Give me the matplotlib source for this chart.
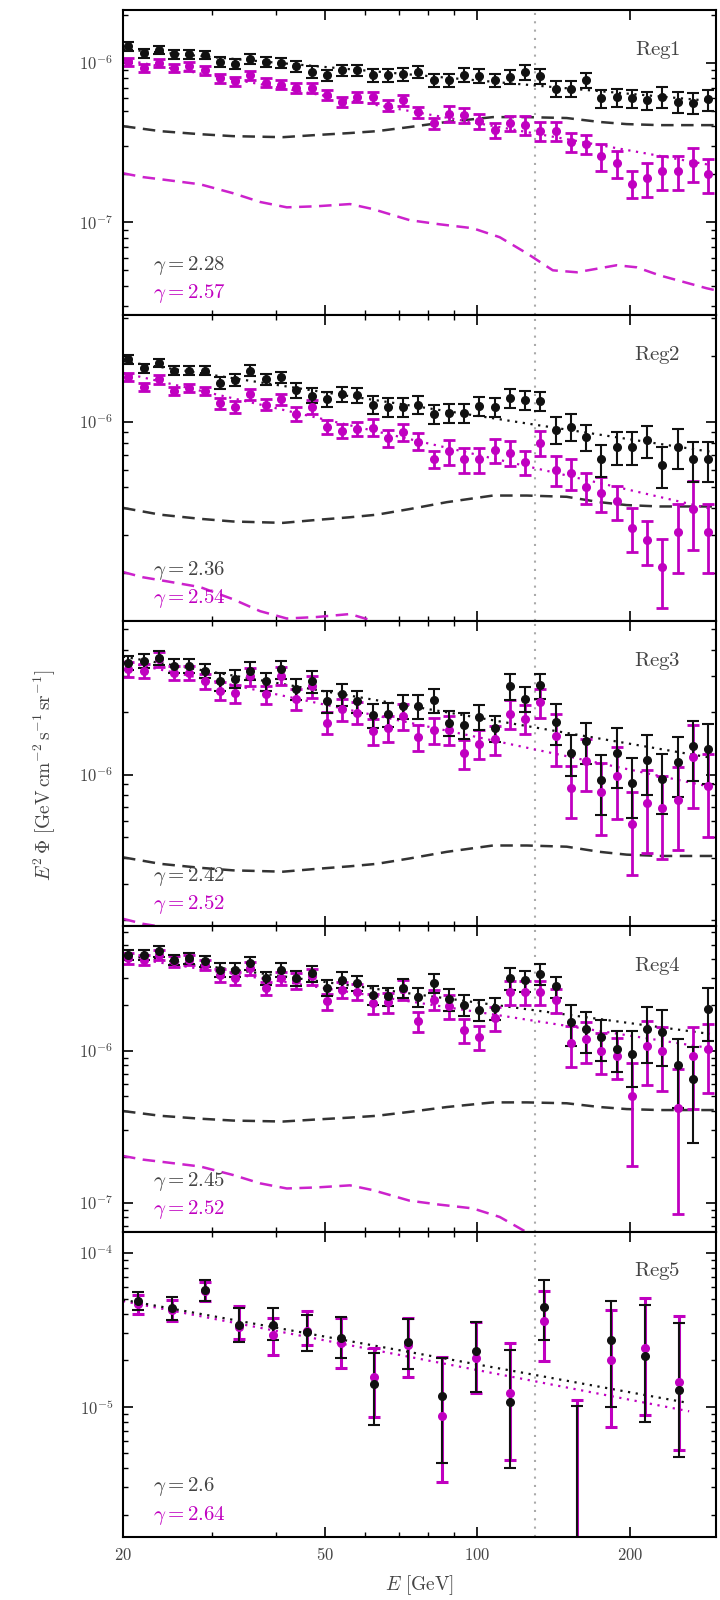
"""
Five-region spectra E^2 Phi vs E with power-law fits and template curves
"""
import numpy as np
import matplotlib
matplotlib.use('Agg')
import matplotlib.pyplot as plt
from matplotlib.ticker import FixedLocator, FixedFormatter, LogLocator, NullFormatter, FuncFormatter

# energy bins (GeV), regions 1-4
energy = [20.50, 21.97, 23.55, 25.24, 27.05, 28.99, 31.08, 33.31, 35.69, 38.26,
          41.01, 43.95, 47.11, 50.49, 54.11, 58.00, 62.16, 66.63, 71.41, 76.54,
          82.04, 87.93, 94.24, 101.0, 108.3, 116.0, 124.4, 133.3, 142.9, 153.1,
          164.1, 175.9, 188.5, 202.1, 216.6, 232.1, 248.8, 266.7, 285.8]

# flux values in 1e-6 GeV cm^-2 s^-1 sr^-1, errors as fraction of the value
reg1_black = [1.27, 1.15, 1.21, 1.13, 1.13, 1.12, 1.02, 0.99, 1.06, 1.02, 1.00, 0.95, 0.88,
              0.84, 0.90, 0.90, 0.84, 0.84, 0.85, 0.88, 0.78, 0.78, 0.84, 0.83, 0.78, 0.82,
              0.88, 0.83, 0.69, 0.69, 0.78, 0.60, 0.61, 0.60, 0.585, 0.61, 0.57, 0.56, 0.59]
reg1_black_err = [0.06, 0.06, 0.06, 0.06, 0.06, 0.06, 0.07, 0.07, 0.07, 0.07, 0.07, 0.08, 0.08,
                  0.08, 0.08, 0.08, 0.09, 0.09, 0.09, 0.09, 0.09, 0.10, 0.10, 0.10, 0.10, 0.10,
                  0.11, 0.11, 0.11, 0.11, 0.11, 0.13, 0.13, 0.13, 0.13, 0.15, 0.15, 0.15, 0.15]
reg1_mag = [1.02, 0.93, 1.00, 0.93, 0.95, 0.90, 0.80, 0.77, 0.84, 0.75, 0.73, 0.70, 0.70,
            0.63, 0.57, 0.61, 0.61, 0.54, 0.585, 0.49, 0.42, 0.48, 0.47, 0.43, 0.38, 0.42,
            0.41, 0.375, 0.375, 0.32, 0.31, 0.26, 0.235, 0.175, 0.19, 0.21, 0.21, 0.235, 0.20]
reg1_mag_err = [0.06, 0.06, 0.06, 0.06, 0.06, 0.06, 0.065, 0.065, 0.065, 0.065, 0.065, 0.07, 0.07,
                0.07, 0.07, 0.07, 0.08, 0.08, 0.08, 0.08, 0.08, 0.11, 0.11, 0.11, 0.11, 0.11,
                0.14, 0.14, 0.14, 0.14, 0.14, 0.19, 0.19, 0.19, 0.24, 0.24, 0.24, 0.24, 0.24]

reg2_black = [1.94, 1.76, 1.87, 1.72, 1.72, 1.72, 1.51, 1.56, 1.72, 1.57, 1.60, 1.40, 1.32,
              1.27, 1.34, 1.33, 1.20, 1.17, 1.17, 1.20, 1.09, 1.10, 1.10, 1.18, 1.17, 1.28,
              1.26, 1.25, 0.92, 0.95, 0.85, 0.67, 0.765, 0.765, 0.82, 0.63, 0.765, 0.67, 0.67]
reg2_black_err = [0.045, 0.045, 0.045, 0.045, 0.045, 0.045, 0.06, 0.06, 0.06, 0.06, 0.06, 0.08, 0.08,
                  0.08, 0.08, 0.08, 0.10, 0.10, 0.10, 0.10, 0.10, 0.10, 0.10, 0.10, 0.10, 0.10,
                  0.10, 0.10, 0.14, 0.14, 0.14, 0.17, 0.17, 0.17, 0.17, 0.21, 0.21, 0.21, 0.21]
reg2_mag = [1.61, 1.45, 1.57, 1.39, 1.43, 1.39, 1.22, 1.17, 1.34, 1.20, 1.27, 1.09, 1.17,
            0.95, 0.91, 0.93, 0.94, 0.84, 0.90, 0.81, 0.67, 0.73, 0.67, 0.67, 0.74, 0.72,
            0.65, 0.80, 0.60, 0.58, 0.50, 0.47, 0.43, 0.325, 0.285, 0.213, 0.31, 0.395, 0.31]
reg2_mag_err = [0.045, 0.045, 0.045, 0.045, 0.045, 0.045, 0.06, 0.06, 0.06, 0.06, 0.06, 0.075, 0.075,
                0.075, 0.075, 0.075, 0.09, 0.09, 0.09, 0.09, 0.09, 0.13, 0.13, 0.13, 0.13, 0.13,
                0.13, 0.13, 0.16, 0.16, 0.16, 0.18, 0.18, 0.23, 0.23, 0.35, 0.35, 0.35, 0.35]

reg3_black = [3.46, 3.53, 3.66, 3.34, 3.34, 3.16, 2.82, 2.90, 3.16, 2.82, 3.22, 2.59, 2.82,
              2.26, 2.44, 2.26, 1.93, 1.95, 2.14, 2.14, 2.29, 1.78, 1.73, 1.90, 1.68, 2.67,
              2.32, 2.69, 1.79, 1.27, 1.45, 0.94, 1.27, 0.91, 1.18, 0.95, 1.15, 1.37, 1.33]
reg3_black_err = [0.08, 0.08, 0.08, 0.08, 0.08, 0.08, 0.10, 0.10, 0.10, 0.10, 0.10, 0.12, 0.12,
                  0.12, 0.12, 0.12, 0.13, 0.13, 0.13, 0.13, 0.13, 0.14, 0.14, 0.14, 0.14, 0.14,
                  0.14, 0.14, 0.22, 0.22, 0.22, 0.32, 0.32, 0.32, 0.32, 0.32, 0.32, 0.32, 0.32]
reg3_mag = [3.22, 3.16, 3.59, 3.10, 3.10, 2.82, 2.53, 2.46, 2.97, 2.44, 2.99, 2.32, 2.67,
            1.78, 2.06, 1.99, 1.62, 1.68, 1.91, 1.52, 1.64, 1.65, 1.27, 1.41, 1.48, 1.97,
            1.86, 2.24, 1.53, 0.86, 1.16, 0.83, 0.99, 0.58, 0.735, 0.69, 0.76, 1.22, 0.88]
reg3_mag_err = [0.08, 0.08, 0.08, 0.08, 0.08, 0.08, 0.10, 0.10, 0.10, 0.10, 0.10, 0.12, 0.12,
                0.12, 0.12, 0.12, 0.14, 0.14, 0.14, 0.14, 0.14, 0.16, 0.16, 0.16, 0.16, 0.16,
                0.16, 0.16, 0.28, 0.28, 0.28, 0.38, 0.38, 0.43, 0.43, 0.43, 0.43, 0.43, 0.43]

reg4_black = [4.28, 4.28, 4.50, 3.97, 4.07, 3.87, 3.41, 3.41, 3.78, 3.01, 3.41, 3.01, 3.24,
              2.59, 2.93, 2.79, 2.34, 2.28, 2.59, 2.26, 2.79, 2.19, 2.01, 1.86, 1.91, 3.01,
              2.90, 3.21, 2.65, 1.54, 1.39, 1.23, 1.03, 0.956, 1.39, 1.32, 0.81, 0.65, 1.88]
reg4_black_err = [0.08, 0.08, 0.08, 0.08, 0.08, 0.08, 0.10, 0.10, 0.10, 0.10, 0.10, 0.12, 0.12,
                  0.12, 0.12, 0.12, 0.14, 0.14, 0.14, 0.14, 0.14, 0.16, 0.16, 0.16, 0.16, 0.16,
                  0.16, 0.16, 0.16, 0.30, 0.30, 0.30, 0.30, 0.40, 0.40, 0.40, 0.48, 0.62, 0.38]
reg4_mag = [4.07, 3.97, 4.28, 3.87, 3.97, 3.68, 3.16, 3.01, 3.50, 2.59, 3.01, 2.90, 3.08,
            2.11, 2.52, 2.45, 2.06, 2.08, 2.55, 1.56, 2.17, 1.96, 1.37, 1.24, 1.64, 2.45,
            2.45, 2.45, 2.17, 1.12, 1.19, 1.00, 0.93, 0.50, 1.08, 0.99, 0.42, 0.92, 1.02]
reg4_mag_err = [0.08, 0.08, 0.08, 0.08, 0.08, 0.08, 0.10, 0.10, 0.10, 0.10, 0.10, 0.12, 0.12,
                0.12, 0.12, 0.12, 0.15, 0.15, 0.15, 0.15, 0.15, 0.18, 0.18, 0.18, 0.18, 0.18,
                0.18, 0.18, 0.18, 0.30, 0.30, 0.30, 0.30, 0.65, 0.45, 0.45, 0.80, 0.55, 0.48]

# region 5: wider bins, flux in 1e-5, lower/upper ends of the error bars
energy5 = [21.4, 24.95, 29.09, 33.92, 39.56, 46.12, 53.78, 62.71, 73.12, 85.26,
           99.41, 115.9, 135.2, 157.6, 183.8, 214.3, 249.9]
reg5_black = [4.83, 4.38, 5.69, 3.41, 3.41, 3.08, 2.79, 1.41, 2.62, 1.17, 2.29, 1.08, 4.44,
              0.10, 2.72, 2.14, 1.29]
reg5_black_lo = [4.22, 3.67, 4.83, 2.65, 2.72, 2.29, 2.07, 0.76, 1.76, 0.43, 1.24, 0.40, 2.72,
                 0.001, 1.00, 0.80, 0.475]
reg5_black_hi = [5.52, 5.16, 6.61, 4.38, 4.38, 3.96, 3.82, 2.23, 3.71, 2.07, 3.53, 2.34, 6.61,
                 1.005, 4.83, 4.60, 3.50]
reg5_mag = [4.65, 4.25, 5.60, 3.30, 2.94, 3.10, 2.60, 1.57, 2.50, 0.875, 2.07, 1.23, 3.58,
            0.10, 2.02, 2.41, 1.44]
reg5_mag_lo = [4.02, 3.58, 4.85, 2.75, 2.18, 2.53, 1.78, 0.865, 1.57, 0.327, 1.23, 0.453, 1.97,
               0.001, 0.745, 0.887, 0.526]
reg5_mag_hi = [5.34, 4.95, 6.50, 4.50, 3.77, 4.16, 3.77, 2.41, 3.77, 2.12, 3.53, 2.59, 5.61,
               1.11, 4.26, 5.08, 3.86]

# power-law fits (end points, same units as the data of each region)
fit_energy = [20, 288]
fit_energy5 = [20, 262]
reg1_fit = ([1.22, 0.578], [1.05, 0.229])
reg2_fit = ([1.90, 0.728], [1.68, 0.398])
reg3_fit = ([3.70, 1.21], [3.50, 0.876])
reg4_fit = ([4.28, 1.29], [4.15, 1.04])
reg5_fit = ([4.95, 1.057], [4.85, 0.935])

gammas = [('2.28', '2.57'), ('2.36', '2.54'), ('2.42', '2.52'), ('2.45', '2.52'), ('2.6', '2.64')]

# template curves, in 1e-7 GeV cm^-2 s^-1 sr^-1
tmpl_black_E = [20, 23.7, 28.4, 33.0, 41.4, 48.3, 56.1, 63.4, 73.6, 87.1, 107.4, 125.3,
                150.2, 174.5, 197.3, 229, 300]
tmpl_black = [4.01, 3.73, 3.57, 3.47, 3.42, 3.53, 3.63, 3.73, 3.96, 4.26, 4.57, 4.57,
              4.51, 4.26, 4.13, 4.07, 4.07]
tmpl_mag_E = [20, 21.9, 24.4, 28.4, 33.0, 37.3, 42.1, 48.3, 56.1, 62.2, 73.6, 84.4, 98.0,
              110.8, 125.3, 141, 157.3, 188.5, 206.5, 229, 283.6, 300]
tmpl_mag = [2.03, 1.92, 1.84, 1.73, 1.52, 1.34, 1.24, 1.26, 1.30, 1.21, 1.03, 0.97, 0.917,
            0.805, 0.638, 0.499, 0.485, 0.537, 0.521, 0.464, 0.385, 0.37]

ylims = [(2.6e-8, 2.15e-6), (1.21e-7, 3.09e-6), (1.87e-7, 5.5e-6), (6.45e-8, 6.6e-6), (1.43e-6, 1.37e-4)]
line_energy = 130.0

BLACK = '#111111'
MAG = '#c000c0'

plt.rcParams['mathtext.fontset'] = 'cm'
plt.rcParams['font.family'] = ['DejaVu Serif']

fig = plt.figure(figsize=(7.2, 16), dpi=100)
gs = fig.add_gridspec(5, 1, left=123/720, right=716/720, top=1 - 10/1600,
                      bottom=1 - 1537/1600, hspace=0)

regions = [
    (reg1_black, reg1_black_err, reg1_mag, reg1_mag_err, reg1_fit),
    (reg2_black, reg2_black_err, reg2_mag, reg2_mag_err, reg2_fit),
    (reg3_black, reg3_black_err, reg3_mag, reg3_mag_err, reg3_fit),
    (reg4_black, reg4_black_err, reg4_mag, reg4_mag_err, reg4_fit),
]

E = np.array(energy)
for i in range(5):
    ax = fig.add_subplot(gs[i])
    ax.set_xscale('log')
    ax.set_yscale('log')

    if i < 4:
        blk, blk_err, mag, mag_err, fit = regions[i]
        blk = np.array(blk) * 1e-6
        mag = np.array(mag) * 1e-6
        ax.plot(tmpl_black_E, np.array(tmpl_black) * 1e-7, color='#333333', lw=1.8, dashes=(5, 3))
        ax.plot(tmpl_mag_E, np.array(tmpl_mag) * 1e-7, color='#cc22cc', lw=1.8, dashes=(5, 3))
        ax.plot(fit_energy, np.array(fit[1]) * 1e-6, color=MAG, lw=1.6, ls=(0, (1, 2.5)))
        ax.plot(fit_energy, np.array(fit[0]) * 1e-6, color=BLACK, lw=1.6, ls=(0, (1, 2.5)))
        ax.errorbar(E, mag, yerr=mag * np.array(mag_err), fmt='o', color=MAG, ms=5.5,
                    capsize=4, elinewidth=2.0, capthick=2.0)
        ax.errorbar(E, blk, yerr=blk * np.array(blk_err), fmt='o', color=BLACK, ms=5.5,
                    capsize=4, elinewidth=1.5, capthick=1.5)
    else:
        E5 = np.array(energy5)
        blk = np.array(reg5_black) * 1e-5
        mag = np.array(reg5_mag) * 1e-5
        blk_err = [blk - np.array(reg5_black_lo) * 1e-5, np.array(reg5_black_hi) * 1e-5 - blk]
        mag_err = [mag - np.array(reg5_mag_lo) * 1e-5, np.array(reg5_mag_hi) * 1e-5 - mag]
        ax.plot(fit_energy5, np.array(reg5_fit[1]) * 1e-5, color=MAG, lw=1.6, ls=(0, (1, 2.5)))
        ax.plot(fit_energy5, np.array(reg5_fit[0]) * 1e-5, color=BLACK, lw=1.6, ls=(0, (1, 2.5)))
        ax.errorbar(E5, mag, yerr=mag_err, fmt='o', color=MAG, ms=5.5,
                    capsize=4, elinewidth=2.2, capthick=2.2)
        ax.errorbar(E5, blk, yerr=blk_err, fmt='o', color=BLACK, ms=5.5,
                    capsize=4, elinewidth=1.5, capthick=1.5)

    ax.axvline(line_energy, color='#aaaaaa', lw=1.5, ls=(0, (1, 3)), zorder=0)

    ax.set_xlim(20, 296)
    ax.set_ylim(*ylims[i])

    ax.xaxis.set_major_locator(FixedLocator([20, 50, 100, 200]))
    ax.xaxis.set_minor_locator(FixedLocator([30, 40, 60, 70, 80, 90]))
    ax.xaxis.set_major_formatter(FixedFormatter([r'$20$', r'$50$', r'$100$', r'$200$']))
    ax.xaxis.set_minor_formatter(NullFormatter())
    ax.yaxis.set_major_locator(LogLocator(base=10))
    ax.yaxis.set_minor_locator(LogLocator(base=10, subs=np.arange(2, 10)))
    ax.yaxis.set_major_formatter(FuncFormatter(lambda v, _: r'$10^{%d}$' % round(np.log10(v))))
    ax.yaxis.set_minor_formatter(NullFormatter())
    ax.tick_params(which='both', direction='in', top=True, right=True, labelsize=12,
                   labelcolor='#444444', pad=7)
    ax.tick_params(which='major', length=7, width=1.2)
    ax.tick_params(which='minor', length=3.5, width=1.0)
    if i < 4:
        ax.tick_params(labelbottom=False)
    for s in ax.spines.values():
        s.set_linewidth(1.5)

    ax.text(0.94, 0.87, r'$\mathrm{Reg%d}$' % (i + 1), transform=ax.transAxes,
            ha='right', va='center', fontsize=15, color='#444444')
    ax.text(0.05, 0.164, r'$\gamma=%s$' % gammas[i][0], transform=ax.transAxes,
            ha='left', va='center', fontsize=15, color='#444444')
    ax.text(0.05, 0.072, r'$\gamma=%s$' % gammas[i][1], transform=ax.transAxes,
            ha='left', va='center', fontsize=15, color=MAG)

fig.text(45/720, 1 - 775/1600,
         r'$E^2\,\Phi\ [\mathrm{GeV\,cm^{-2}\,s^{-1}\,sr^{-1}}]$',
         rotation=90, ha='center', va='center', fontsize=14, color='#444444')
fig.text(420/720, 1 - 1585/1600, r'$E\ [\mathrm{GeV}]$',
         ha='center', va='center', fontsize=14, color='#444444')

fig.savefig('out.png', dpi=100)
